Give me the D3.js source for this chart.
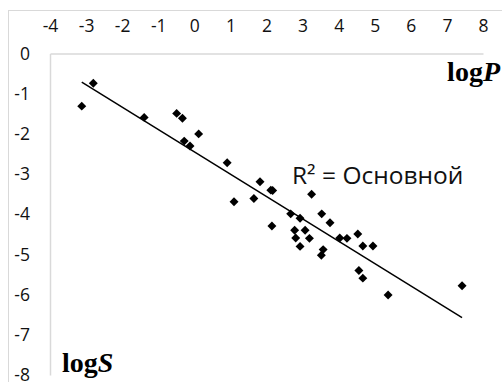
<!DOCTYPE html>
<html>
<head>
<meta charset="utf-8">
<script src="https://cdn.jsdelivr.net/npm/d3@7"></script>
<style>
  html, body { margin: 0; padding: 0; background: #fff; }
  svg { display: block; }
</style>
</head>
<body>
<svg id="chart" width="502" height="382"></svg>
<script>
// ---- data ----
const logP = [-3.12, -2.80, -1.39, -0.49, -0.33, 0.12, -0.28, -0.12, 0.91, 1.82,
              2.12, 2.17, 1.10, 1.65, 3.25, 2.15, 2.67, 2.93, 3.53, 3.76,
              2.78, 3.07, 2.81, 3.19, 2.93, 3.57, 3.52, 4.03, 4.23, 4.53,
              4.67, 4.95, 4.56, 4.67, 5.37, 7.42];
const logS = [-1.31, -0.74, -1.59, -1.49, -1.61, -2.00, -2.18, -2.30, -2.72, -3.19,
              -3.40, -3.41, -3.69, -3.61, -3.50, -4.29, -3.99, -4.10, -3.99, -4.21,
              -4.40, -4.40, -4.59, -4.60, -4.80, -4.88, -5.02, -4.59, -4.60, -4.49,
              -4.79, -4.79, -5.40, -5.59, -6.01, -5.78];
const trendX = [-3.12, 7.42];
const trendY = [-0.71, -6.57];
const xTicks = [-4, -3, -2, -1, 0, 1, 2, 3, 4, 5, 6, 7, 8];
const yTicks = [0, -1, -2, -3, -4, -5, -6, -7, -8];
const trendLabel = "R² = Основной";
const xTitle = ["log", "P"];
const yTitle = ["log", "S"];

const svg = d3.select("#chart");
const x = d3.scaleLinear().domain([-4, 8]).range([50, 483]);
const y = d3.scaleLinear().domain([-8, 0]).range([375, 53.5]);
const gridColor = "#d9d9d9";
const tickFont = "'Open Sans', Lato, sans-serif";
const fmt = d => String(d); // plain hyphen-minus like the reference

// outer chart frame
svg.append("rect")
  .attr("x", 8.5).attr("y", 10.5)
  .attr("width", 600).attr("height", 500)
  .attr("fill", "none").attr("stroke", gridColor).attr("stroke-width", 1);

// x axis (at y = 0, labels above)
const gx = svg.append("g")
  .attr("transform", `translate(0,${y(0)})`)
  .call(d3.axisTop(x).tickValues(xTicks).tickSize(0).tickSizeOuter(0).tickPadding(21.5)
        .tickFormat(fmt));
gx.select(".domain").attr("stroke", gridColor).attr("stroke-width", 1.5);
gx.selectAll("text").attr("font-family", tickFont).attr("font-size", 17.5).attr("fill", "#111");

// y axis (at x = -4)
const gy = svg.append("g")
  .attr("transform", `translate(${x(-4)},0)`)
  .call(d3.axisLeft(y).tickValues(yTicks).tickSize(0).tickSizeOuter(0).tickPadding(20)
        .tickFormat(fmt));
gy.select(".domain").attr("stroke", gridColor).attr("stroke-width", 1.5);
gy.selectAll("text").attr("font-family", tickFont).attr("font-size", 17.5).attr("fill", "#111");

// trend line
svg.append("line")
  .attr("x1", x(trendX[0])).attr("y1", y(trendY[0]))
  .attr("x2", x(trendX[1])).attr("y2", y(trendY[1]))
  .attr("stroke", "#000").attr("stroke-width", 1.5);

// points
const pts = logP.map((v, i) => ({ p: v, s: logS[i] }));
svg.append("g").selectAll("path")
  .data(pts).join("path")
  .attr("d", d3.symbol(d3.symbolSquare, 40))
  .attr("transform", d => `translate(${x(d.p)},${y(d.s)}) rotate(45)`)
  .attr("fill", "#000");

// trend label
svg.append("text")
  .attr("x", 292).attr("y", 184)
  .attr("font-family", tickFont).attr("font-size", 24.5).attr("fill", "#111")
  .text(trendLabel);

// axis titles
const tP = svg.append("text")
  .attr("x", 500).attr("y", 80.5).attr("text-anchor", "end")
  .attr("font-family", "'Liberation Serif', 'Times New Roman', serif")
  .attr("font-size", 28).attr("font-weight", "bold");
tP.append("tspan").text(xTitle[0]);
tP.append("tspan").attr("font-style", "italic").text(xTitle[1]);

const tS = svg.append("text")
  .attr("x", 62).attr("y", 371.5)
  .attr("font-family", "'Liberation Serif', 'Times New Roman', serif")
  .attr("font-size", 28).attr("font-weight", "bold");
tS.append("tspan").text(yTitle[0]);
tS.append("tspan").attr("font-style", "italic").text(yTitle[1]);
</script>
</body>
</html>
